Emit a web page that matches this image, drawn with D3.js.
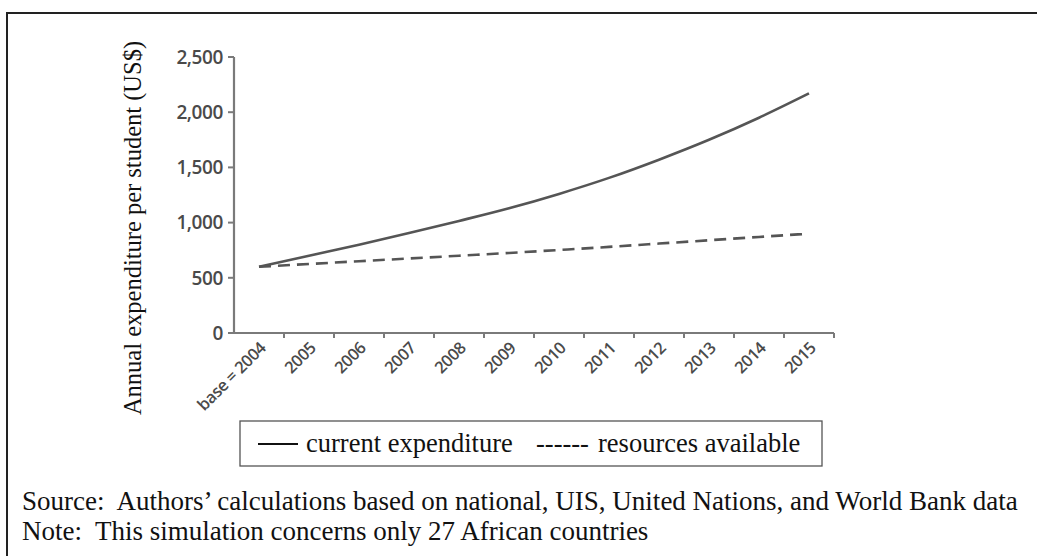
<!DOCTYPE html>
<html>
<head>
<meta charset="utf-8">
<script src="https://cdn.jsdelivr.net/npm/d3@7.9.0/dist/d3.min.js"></script>
<style>
  body { margin: 0; background: #fff; }
  svg { display: block; }
  .tick-lbl { font-family: "Open Sans", sans-serif; font-weight: 600; fill: #4a4a4a; }
  .serif { font-family: "Liberation Serif", "Times New Roman", serif; fill: #111; }
</style>
</head>
<body>
<div id="chart"></div>
<script>
// Data
const years = ["2004", "2005", "2006", "2007", "2008", "2009", "2010", "2011", "2012", "2013", "2014", "2015"];
const yearLabels = ["base = 2004", "2005", "2006", "2007", "2008", "2009", "2010", "2011", "2012", "2013", "2014", "2015"];
const currentExpenditure = [600, 700, 800, 905, 1015, 1130, 1260, 1405, 1570, 1750, 1950, 2170];
const resourcesAvailable = [600, 625, 650, 675, 700, 725, 752, 780, 810, 840, 870, 900];
const yTicks = [0, 500, 1000, 1500, 2000, 2500];

const W = 1037, H = 556;

const svg = d3.select("#chart").append("svg")
    .attr("width", W)
    .attr("height", H);

// outer frame (runs off right and bottom edge)
svg.append("rect")
    .attr("x", 7).attr("y", 13)
    .attr("width", 1060).attr("height", 600)
    .attr("fill", "none")
    .attr("stroke", "#222")
    .attr("stroke-width", 2);

// scales
const x = d3.scaleBand().domain(years).range([234, 834]);
const y = d3.scaleLinear().domain([0, 2500]).range([333, 57]);
const xMid = d => x(d) + x.bandwidth() / 2;

const axisCol = "#7a7a7a";

// y axis
svg.append("line")
    .attr("x1", x.range()[0]).attr("x2", x.range()[0])
    .attr("y1", y(0)).attr("y2", y(2500))
    .attr("stroke", axisCol).attr("stroke-width", 2.2);

svg.selectAll("line.ytick")
    .data(yTicks)
    .join("line")
    .attr("class", "ytick")
    .attr("x1", x.range()[0] - 6).attr("x2", x.range()[0])
    .attr("y1", d => y(d)).attr("y2", d => y(d))
    .attr("stroke", axisCol).attr("stroke-width", 2);

const fmt = d3.format(",");
svg.selectAll("text.ylbl")
    .data(yTicks)
    .join("text")
    .attr("class", "tick-lbl ylbl")
    .attr("x", x.range()[0] - 11)
    .attr("y", d => y(d))
    .attr("dy", "0.36em")
    .attr("text-anchor", "end")
    .attr("font-size", 19)
    .attr("letter-spacing", -0.4)
    .text(d => fmt(d));

// x axis
svg.append("line")
    .attr("x1", x.range()[0] - 1).attr("x2", x.range()[1])
    .attr("y1", y(0)).attr("y2", y(0))
    .attr("stroke", axisCol).attr("stroke-width", 2.2);

// ticks on band boundaries
svg.selectAll("line.xtick")
    .data(years)
    .join("line")
    .attr("class", "xtick")
    .attr("x1", d => x(d) + x.bandwidth()).attr("x2", d => x(d) + x.bandwidth())
    .attr("y1", y(0)).attr("y2", y(0) + 5)
    .attr("stroke", axisCol).attr("stroke-width", 2);

svg.selectAll("text.xlbl")
    .data(years)
    .join("text")
    .attr("class", "tick-lbl xlbl")
    .attr("font-size", 16.5)
    .attr("letter-spacing", -0.4)
    .attr("text-anchor", "end")
    .attr("transform", d => `translate(${xMid(d) + 8}, ${y(0) + 16}) rotate(-45)`)
    .text((d, i) => yearLabels[i]);

// lines
const line = d3.line()
    .x((d, i) => xMid(years[i]))
    .y(d => y(d))
    .curve(d3.curveMonotoneX);

svg.append("path")
    .datum(currentExpenditure)
    .attr("d", line)
    .attr("fill", "none")
    .attr("stroke", "#555")
    .attr("stroke-width", 2.6);

svg.append("path")
    .datum(resourcesAvailable)
    .attr("d", line)
    .attr("fill", "none")
    .attr("stroke", "#555")
    .attr("stroke-width", 2.6)
    .attr("stroke-dasharray", "12,7");

// y axis title
svg.append("text")
    .attr("class", "serif")
    .attr("font-size", 24.5)
    .attr("text-anchor", "middle")
    .attr("transform", "translate(141, 228) rotate(-90)")
    .text("Annual expenditure per student (US$)");

// legend
const lg = svg.append("g");
lg.append("rect")
    .attr("x", 240).attr("y", 421)
    .attr("width", 582).attr("height", 45)
    .attr("fill", "none")
    .attr("stroke", "#555")
    .attr("stroke-width", 1.3);

lg.append("line")
    .attr("x1", 258).attr("x2", 298)
    .attr("y1", 444).attr("y2", 444)
    .attr("stroke", "#111").attr("stroke-width", 2);

lg.append("text")
    .attr("class", "serif")
    .attr("x", 306).attr("y", 452)
    .attr("font-size", 26.5)
    .text("current expenditure");

lg.append("text")
    .attr("class", "serif")
    .attr("x", 536).attr("y", 452)
    .attr("font-size", 26.5)
    .text("------");

lg.append("text")
    .attr("class", "serif")
    .attr("x", 598).attr("y", 452)
    .attr("font-size", 26.5)
    .text("resources available");

// source / note
svg.append("text")
    .attr("class", "serif")
    .attr("x", 22).attr("y", 510)
    .attr("font-size", 27)
    .attr("xml:space", "preserve")
    .text("Source:  Authors\u2019 calculations based on national, UIS, United Nations, and World Bank data");

svg.append("text")
    .attr("class", "serif")
    .attr("x", 22).attr("y", 540)
    .attr("font-size", 27)
    .attr("xml:space", "preserve")
    .text("Note:  This simulation concerns only 27 African countries");
</script>
</body>
</html>
